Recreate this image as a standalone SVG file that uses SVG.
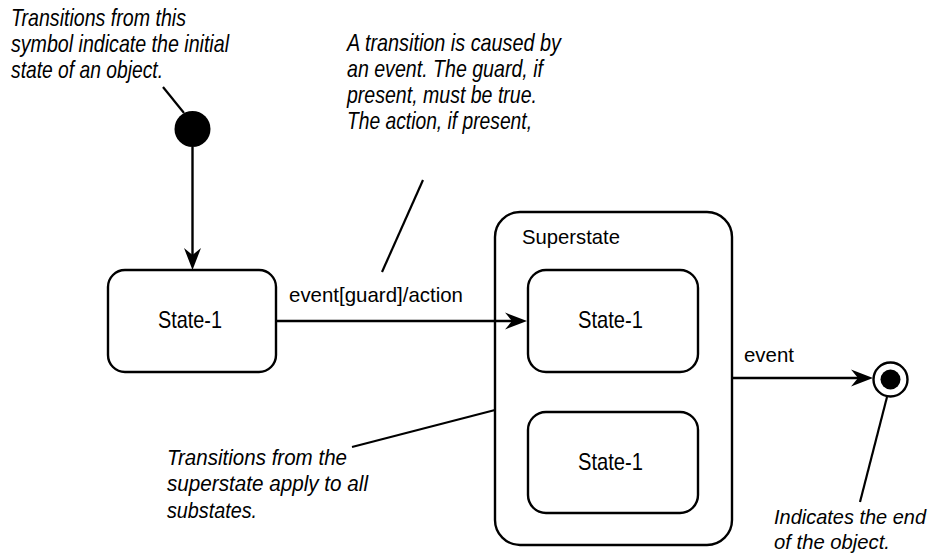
<svg xmlns="http://www.w3.org/2000/svg" width="935" height="556" viewBox="0 0 935 556">
  <style>
    .shape { fill: none; stroke: #000; stroke-width: 2.4; }
    .wire { fill: none; stroke: #000; stroke-width: 2.4; }
    .lead { fill: none; stroke: #000; stroke-width: 2.2; }
    .note { font-family: "Liberation Sans", Arial, sans-serif; font-style: italic; font-size: 24px; fill: #000; }
    .note-sm { font-size: 22px; }
    .note-xs { font-size: 21px; }
    .label { font-family: "Liberation Sans", Arial, sans-serif; font-size: 21px; fill: #000; }
    .state { font-family: "Liberation Sans", Arial, sans-serif; font-size: 24px; fill: #000; }
  </style>
  <defs>
    <marker id="arrow" markerUnits="userSpaceOnUse" viewBox="-23 -10 24 20" markerWidth="24" markerHeight="20" refX="-15" refY="0" orient="auto">
      <path d="M0,0 L-22,-8.5 L-15,0 L-22,8.5 Z" fill="#000"/>
    </marker>
  </defs>
  <rect width="935" height="556" fill="#fff"/>

  <!-- annotations -->
  <g id="note-initial">
    <text class="note" x="11" y="26" textLength="175" lengthAdjust="spacingAndGlyphs">Transitions from this</text>
    <text class="note" x="11" y="52" textLength="218" lengthAdjust="spacingAndGlyphs">symbol indicate the initial</text>
    <text class="note" x="11" y="78" textLength="152" lengthAdjust="spacingAndGlyphs">state of an object.</text>
  </g>
  <g id="note-transition">
    <text class="note" x="347" y="51" textLength="214" lengthAdjust="spacingAndGlyphs">A transition is caused by</text>
    <text class="note" x="347" y="77" textLength="196" lengthAdjust="spacingAndGlyphs">an event. The guard, if</text>
    <text class="note" x="347" y="103" textLength="190" lengthAdjust="spacingAndGlyphs">present, must be true.</text>
    <text class="note" x="347" y="129" textLength="185" lengthAdjust="spacingAndGlyphs">The action, if present,</text>
  </g>
  <g id="note-superstate">
    <text class="note note-sm" x="167" y="465" textLength="180" lengthAdjust="spacingAndGlyphs">Transitions from the</text>
    <text class="note note-sm" x="167" y="491" textLength="201" lengthAdjust="spacingAndGlyphs">superstate apply to all</text>
    <text class="note note-sm" x="167" y="518" textLength="90" lengthAdjust="spacingAndGlyphs">substates.</text>
  </g>
  <g id="note-final">
    <text class="note note-xs" x="774" y="524" textLength="152" lengthAdjust="spacingAndGlyphs">Indicates the end</text>
    <text class="note note-xs" x="774" y="549" textLength="116" lengthAdjust="spacingAndGlyphs">of the object.</text>
  </g>

  <!-- nodes -->
  <g id="initial">
    <circle cx="192.5" cy="129" r="18" fill="#000"/>
  </g>
  <g id="state-1">
    <rect class="shape" x="108" y="270" width="168" height="102" rx="17"/>
    <text class="state" x="158" y="328" textLength="64" lengthAdjust="spacingAndGlyphs">State-1</text>
  </g>
  <g id="superstate">
    <rect class="shape" x="495" y="212" width="237" height="333" rx="25"/>
    <text class="label" x="522" y="244" textLength="98" lengthAdjust="spacingAndGlyphs">Superstate</text>
  </g>
  <g id="substate-1">
    <rect class="shape" x="528" y="270" width="170" height="102" rx="18"/>
    <text class="state" x="578" y="328" textLength="65" lengthAdjust="spacingAndGlyphs">State-1</text>
  </g>
  <g id="substate-2">
    <rect class="shape" x="528" y="412" width="170" height="101" rx="18"/>
    <text class="state" x="578" y="470" textLength="65" lengthAdjust="spacingAndGlyphs">State-1</text>
  </g>
  <g id="final">
    <circle cx="890.5" cy="379.5" r="17" fill="#fff" stroke="#000" stroke-width="2.4"/>
    <circle cx="890.5" cy="379.5" r="10" fill="#000"/>
  </g>

  <!-- connectors -->
  <g id="connectors">
    <line class="wire" x1="192.5" y1="147" x2="192.5" y2="255" marker-end="url(#arrow)"/>
    <line class="wire" x1="276" y1="321" x2="512" y2="321" marker-end="url(#arrow)"/>
    <text class="label" x="289" y="302" textLength="174" lengthAdjust="spacingAndGlyphs">event[guard]/action</text>
    <line class="wire" x1="732" y1="378" x2="858" y2="378" marker-end="url(#arrow)"/>
    <text class="label" x="744" y="362" textLength="50" lengthAdjust="spacingAndGlyphs">event</text>
  </g>

  <!-- annotation leaders -->
  <g id="leaders">
    <line class="lead" x1="163" y1="87" x2="184" y2="113"/>
    <line class="lead" x1="423" y1="180" x2="382" y2="272"/>
    <line class="lead" x1="352" y1="447" x2="495" y2="410"/>
    <line class="lead" x1="887" y1="397" x2="860" y2="502"/>
  </g>
</svg>
